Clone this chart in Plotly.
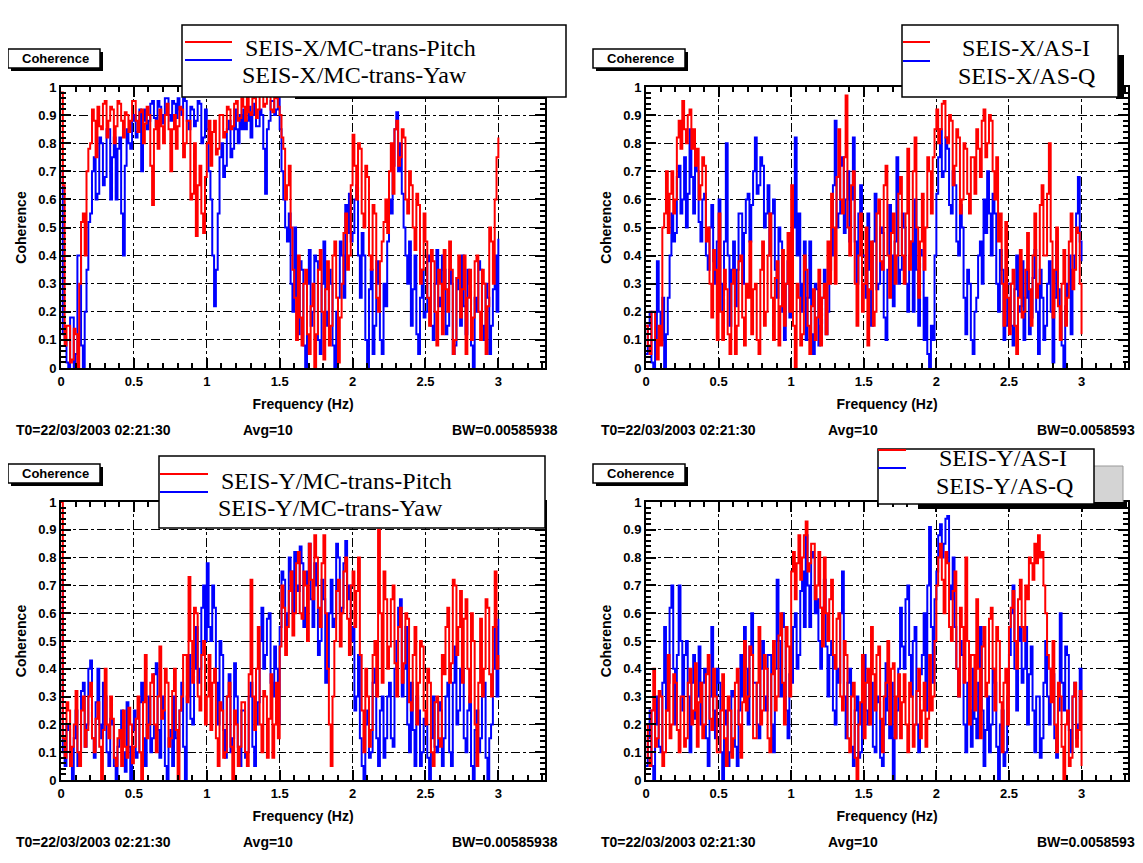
import plotly.graph_objects as go

# page offset of the plot inside the browser window (default body margin)
OFF = 8
W, H = 1143 - OFF, 863 - OFF

# frequency bins (Hz), 0 .. 3 Hz
freq = [round(i * 0.0125, 4) for i in range(241)]

# coherence values, in hundredths
x_pitch = [98, 65, 8, 15, 15, 2, 3, 14, 12, 0, 30, 52, 55, 40, 70, 78, 80, 92, 88, 75,
           93, 86, 85, 94, 95, 82, 88, 93, 92, 80, 86, 95, 94, 88, 82, 91, 90, 84, 88, 95,
           95, 88, 84, 91, 92, 80, 87, 93, 90, 72, 58, 85, 88, 78, 92, 86, 80, 90, 94, 85,
           70, 85, 90, 78, 86, 93, 92, 75, 80, 88, 88, 60, 62, 80, 47, 65, 72, 55, 48, 68,
           80, 88, 72, 84, 88, 76, 78, 90, 90, 82, 84, 93, 92, 85, 86, 94, 95, 88, 89, 96,
           93, 88, 97, 91, 90, 96, 96, 89, 92, 97, 98, 93, 94, 98, 97, 92, 91, 97, 96, 93,
           90, 82, 78, 60, 65, 72, 50, 35, 25, 10, 40, 18, 8, 30, 35, 12, 5, 22, 30, 0,
           12, 35, 42, 20, 3, 28, 38, 8, 15, 40, 45, 25, 2, 18, 30, 48, 55, 35, 40, 65,
           83, 72, 60, 80, 78, 55, 50, 72, 68, 40, 35, 58, 55, 25, 20, 38, 45, 52, 60, 48,
           70, 80, 62, 85, 88, 72, 75, 85, 82, 60, 55, 70, 65, 50, 42, 62, 58, 30, 35, 55,
           45, 25, 15, 42, 38, 20, 8, 35, 30, 12, 42, 28, 20, 45, 35, 5, 10, 32, 40, 18,
           28, 40, 5, 25, 35, 10, 18, 38, 40, 20, 10, 35, 30, 5, 22, 50, 45, 30, 60, 75,
           82]
x_yaw = [70, 12, 10, 2, 0, 18, 18, 0, 5, 40, 40, 8, 0, 20, 35, 52, 55, 70, 75, 60,
         62, 82, 80, 65, 68, 85, 85, 60, 75, 82, 60, 78, 82, 55, 40, 72, 85, 80, 78, 88,
         90, 82, 84, 92, 70, 88, 92, 85, 88, 94, 95, 89, 86, 95, 93, 87, 90, 96, 96, 90,
         88, 95, 94, 89, 96, 92, 90, 96, 95, 88, 85, 93, 92, 86, 88, 95, 94, 80, 82, 92,
         85, 70, 60, 40, 22, 35, 55, 75, 80, 68, 72, 85, 88, 75, 78, 92, 85, 80, 90, 85,
         92, 85, 88, 93, 82, 90, 94, 86, 86, 92, 90, 78, 62, 85, 88, 95, 95, 90, 92, 96,
         85, 70, 60, 50, 45, 55, 30, 20, 50, 25, 12, 38, 35, 8, 0, 30, 42, 15, 20, 40,
         38, 10, 5, 30, 45, 20, 15, 35, 30, 8, 0, 20, 25, 45, 40, 25, 58, 48, 62, 45,
         48, 60, 65, 40, 25, 48, 40, 10, 0, 28, 35, 5, 15, 38, 30, 10, 5, 30, 22, 45,
         60, 55, 72, 85, 91, 70, 80, 62, 50, 40, 30, 45, 15, 28, 40, 12, 5, 25, 35, 18,
         20, 40, 38, 15, 10, 30, 42, 22, 25, 40, 35, 12, 15, 35, 30, 5, 8, 32, 28, 15,
         40, 22, 12, 35, 30, 8, 0, 25, 20, 38, 35, 15, 10, 30, 25, 5, 15, 28, 40, 20,
         46]
x_asi = [15, 8, 5, 20, 20, 10, 3, 15, 8, 50, 55, 70, 48, 62, 70, 55, 60, 82, 88, 78,
         95, 85, 80, 90, 92, 78, 85, 72, 78, 60, 65, 75, 72, 45, 50, 30, 18, 42, 35, 10,
         55, 20, 10, 35, 28, 12, 5, 30, 35, 5, 15, 38, 40, 18, 8, 30, 25, 45, 12, 28,
         30, 10, 5, 35, 45, 15, 20, 40, 55, 25, 10, 32, 38, 8, 22, 42, 15, 30, 48, 20,
         65, 15, 0, 30, 25, 8, 12, 40, 35, 15, 5, 22, 28, 10, 18, 35, 8, 25, 30, 12,
         45, 30, 62, 50, 30, 68, 85, 60, 55, 75, 97, 50, 40, 65, 70, 30, 15, 40, 55, 20,
         30, 50, 8, 28, 45, 15, 20, 55, 60, 38, 35, 65, 72, 40, 25, 48, 55, 30, 40, 62,
         68, 40, 30, 55, 78, 35, 45, 70, 82, 50, 25, 45, 62, 35, 50, 75, 70, 55, 75, 85,
         92, 80, 85, 94, 95, 82, 80, 90, 88, 65, 72, 85, 82, 55, 60, 80, 78, 62, 55, 75,
         75, 62, 85, 78, 68, 88, 92, 75, 80, 90, 88, 70, 60, 75, 45, 55, 30, 15, 52, 25,
         12, 30, 35, 15, 5, 25, 42, 18, 20, 35, 48, 28, 15, 40, 55, 25, 30, 58, 65, 40,
         40, 62, 80, 45, 18, 35, 50, 22, 10, 30, 42, 15, 25, 45, 55, 28, 35, 50, 48, 30,
         12]
x_asq = [5, 15, 20, 2, 0, 10, 38, 20, 10, 25, 0, 12, 25, 40, 55, 45, 48, 68, 72, 55,
         60, 75, 50, 62, 85, 68, 55, 72, 70, 52, 45, 60, 62, 40, 35, 50, 58, 38, 30, 45,
         60, 30, 20, 45, 80, 40, 15, 35, 45, 22, 35, 55, 55, 30, 48, 60, 62, 45, 58, 70,
         82, 62, 65, 75, 72, 50, 55, 65, 40, 55, 60, 35, 25, 50, 45, 20, 10, 30, 38, 18,
         25, 50, 82, 40, 55, 20, 30, 45, 10, 25, 45, 12, 5, 30, 28, 8, 15, 25, 35, 12,
         20, 35, 40, 65, 88, 50, 55, 72, 75, 48, 60, 70, 45, 60, 82, 45, 30, 55, 65, 40,
         40, 25, 55, 35, 15, 45, 62, 28, 30, 50, 48, 18, 10, 35, 58, 40, 22, 45, 75, 30,
         35, 55, 50, 30, 20, 40, 45, 20, 60, 35, 15, 42, 40, 10, 25, 5, 0, 15, 10, 40,
         62, 75, 85, 68, 70, 82, 78, 58, 55, 70, 65, 45, 40, 58, 50, 25, 12, 35, 30, 10,
         5, 20, 25, 40, 45, 30, 60, 48, 70, 55, 40, 62, 55, 30, 20, 42, 35, 10, 15, 30,
         30, 15, 8, 28, 40, 20, 22, 38, 10, 25, 35, 12, 18, 32, 42, 20, 5, 35, 25, 10,
         15, 30, 38, 20, 2, 25, 45, 28, 20, 8, 0, 22, 30, 40, 12, 35, 40, 55, 68, 45,
         38]
y_pitch = [100, 15, 8, 28, 25, 5, 12, 20, 32, 10, 5, 25, 30, 12, 18, 30, 35, 15, 10, 22,
           28, 12, 0, 18, 40, 20, 15, 30, 22, 8, 5, 15, 18, 5, 25, 12, 8, 26, 20, 6,
           12, 22, 30, 10, 0, 28, 45, 15, 20, 35, 38, 20, 10, 30, 48, 22, 25, 40, 35, 12,
           15, 32, 40, 18, 0, 25, 30, 45, 45, 28, 73, 50, 35, 62, 60, 30, 25, 45, 50, 20,
           30, 45, 18, 35, 40, 15, 5, 28, 25, 8, 10, 30, 35, 12, 0, 25, 20, 5, 12, 28,
           28, 10, 5, 38, 72, 30, 18, 40, 55, 20, 10, 32, 30, 8, 22, 38, 8, 20, 35, 15,
           48, 70, 62, 45, 55, 68, 75, 52, 60, 78, 82, 60, 58, 75, 70, 50, 85, 72, 65, 88,
           80, 62, 55, 78, 88, 60, 40, 20, 5, 30, 50, 68, 72, 48, 60, 75, 80, 58, 45, 70,
           75, 55, 68, 80, 45, 25, 10, 40, 30, 12, 18, 45, 50, 30, 90, 60, 35, 75, 65, 40,
           48, 65, 70, 42, 30, 55, 62, 35, 42, 60, 58, 28, 25, 45, 55, 20, 35, 50, 48, 25,
           20, 40, 35, 10, 5, 28, 30, 15, 12, 45, 38, 55, 62, 35, 42, 72, 70, 45, 55, 68,
           35, 58, 65, 40, 28, 60, 50, 20, 5, 35, 58, 30, 40, 65, 62, 38, 30, 55, 75, 40,
           45]
y_yaw = [72, 10, 5, 20, 18, 5, 0, 15, 25, 5, 10, 32, 35, 12, 20, 40, 43, 15, 8, 28,
         40, 20, 15, 35, 30, 10, 5, 22, 20, 5, 0, 12, 15, 25, 10, 3, 28, 12, 0, 18,
         25, 8, 10, 28, 35, 15, 5, 20, 30, 10, 15, 38, 42, 18, 8, 30, 25, 5, 0, 15,
         18, 5, 30, 15, 10, 25, 35, 12, 0, 30, 45, 22, 20, 40, 55, 35, 40, 62, 70, 50,
         78, 55, 50, 70, 62, 35, 20, 50, 45, 18, 8, 30, 38, 10, 15, 42, 30, 12, 5, 25,
         25, 8, 10, 30, 35, 12, 5, 20, 28, 50, 62, 40, 45, 58, 60, 35, 30, 48, 40, 20,
         55, 75, 72, 50, 60, 80, 75, 60, 82, 70, 68, 84, 78, 55, 62, 75, 85, 65, 55, 78,
         70, 45, 50, 72, 65, 35, 40, 60, 72, 55, 58, 85, 80, 60, 62, 78, 86, 65, 70, 50,
         55, 25, 30, 45, 15, 5, 0, 20, 25, 8, 10, 35, 40, 15, 5, 25, 30, 8, 15, 30,
         35, 15, 12, 40, 50, 62, 65, 30, 40, 55, 20, 10, 35, 18, 5, 30, 25, 5, 10, 22,
         20, 8, 0, 15, 30, 12, 10, 28, 25, 5, 15, 30, 35, 10, 5, 35, 48, 20, 25, 40,
         40, 15, 10, 25, 30, 5, 0, 18, 25, 10, 15, 30, 35, 8, 0, 15, 20, 40, 55, 30,
         58]
y_asi = [20, 8, 5, 25, 40, 12, 15, 32, 30, 5, 10, 25, 45, 15, 20, 38, 35, 18, 10, 30,
         30, 12, 15, 35, 40, 20, 25, 42, 12, 28, 35, 15, 20, 38, 45, 22, 18, 40, 30, 10,
         10, 25, 38, 15, 5, 30, 25, 8, 15, 35, 40, 20, 8, 28, 50, 25, 30, 48, 45, 15,
         15, 35, 55, 20, 25, 45, 40, 15, 10, 38, 50, 25, 30, 52, 60, 35, 20, 55, 48, 30,
         75, 82, 65, 78, 88, 72, 80, 88, 93, 75, 78, 85, 85, 65, 70, 82, 62, 48, 80, 60,
         50, 65, 72, 45, 40, 58, 60, 30, 25, 50, 45, 15, 10, 30, 35, 8, 0, 20, 28, 45,
         15, 35, 40, 20, 55, 38, 25, 45, 48, 22, 10, 30, 35, 50, 20, 40, 42, 15, 30, 38,
         15, 28, 38, 20, 10, 35, 30, 12, 20, 32, 40, 15, 25, 35, 12, 22, 45, 25, 30, 50,
         70, 80, 85, 72, 60, 82, 78, 55, 50, 68, 75, 40, 30, 62, 55, 35, 80, 50, 20, 45,
         45, 25, 65, 40, 15, 48, 55, 30, 35, 58, 62, 40, 25, 55, 50, 28, 10, 35, 40, 20,
         55, 62, 68, 50, 40, 65, 72, 55, 50, 70, 65, 80, 78, 72, 85, 78, 88, 80, 82, 70,
         60, 45, 40, 28, 50, 20, 10, 35, 30, 12, 0, 20, 25, 5, 8, 30, 35, 12, 18, 32,
         5]
y_asq = [5, 15, 25, 5, 0, 20, 30, 12, 10, 35, 55, 25, 35, 62, 70, 40, 20, 45, 70, 50,
         25, 45, 50, 30, 10, 35, 45, 22, 30, 48, 20, 35, 40, 15, 5, 30, 55, 25, 15, 40,
         35, 10, 0, 20, 25, 5, 10, 32, 30, 12, 5, 25, 45, 30, 55, 40, 20, 48, 60, 35,
         35, 20, 15, 40, 50, 30, 25, 45, 45, 20, 10, 40, 72, 50, 30, 60, 55, 25, 15, 38,
         35, 55, 60, 40, 45, 68, 75, 55, 88, 70, 55, 82, 80, 60, 65, 50, 40, 62, 72, 48,
         30, 45, 50, 25, 20, 40, 35, 60, 75, 30, 15, 35, 40, 12, 5, 25, 30, 8, 10, 28,
         45, 25, 20, 38, 35, 12, 10, 30, 28, 8, 5, 20, 42, 25, 15, 35, 0, 15, 25, 40,
         62, 48, 40, 65, 70, 45, 30, 50, 55, 20, 10, 38, 45, 60, 25, 70, 91, 55, 35, 65,
         75, 88, 92, 80, 85, 94, 95, 70, 65, 80, 55, 40, 30, 50, 45, 20, 10, 35, 25, 12,
         40, 22, 15, 35, 55, 25, 5, 18, 30, 10, 20, 40, 35, 12, 0, 20, 25, 5, 10, 30,
         45, 60, 70, 40, 25, 50, 55, 35, 40, 55, 20, 38, 48, 25, 10, 30, 30, 8, 15, 35,
         50, 30, 20, 40, 38, 15, 8, 25, 60, 35, 25, 48, 45, 18, 10, 30, 35, 15, 20, 40,
         30]

y_ticks = [0, 0.1, 0.2, 0.3, 0.4, 0.5, 0.6, 0.7, 0.8, 0.9, 1]
x_ticks = [0, 0.5, 1, 1.5, 2, 2.5, 3]

panels = [
    dict(ax="", red=x_pitch, blue=x_yaw, rn="SEIS-X/MC-trans-Pitch", bn="SEIS-X/MC-trans-Yaw",
         px0=61, px1=545, py0=87, py1=368),
    dict(ax="2", red=x_asi, blue=x_asq, rn="SEIS-X/AS-I", bn="SEIS-X/AS-Q",
         px0=646, px1=1128, py0=87, py1=368),
    dict(ax="3", red=y_pitch, blue=y_yaw, rn="SEIS-Y/MC-trans-Pitch", bn="SEIS-Y/MC-trans-Yaw",
         px0=61, px1=545, py0=502, py1=780),
    dict(ax="4", red=y_asi, blue=y_asq, rn="SEIS-Y/AS-I", bn="SEIS-Y/AS-Q",
         px0=646, px1=1128, py0=502, py1=780),
]


def fx(x):
    return (x - OFF) / W


def fy(y):
    return 1 - (y - OFF) / H


def note(text, x, y, font, xanchor="center"):
    return dict(text=text, xref="paper", yref="paper", x=fx(x), y=fy(y), showarrow=False,
                xanchor=xanchor, yanchor="middle", font=font)


fig = go.Figure()
layout = dict(width=W, height=H, margin=dict(l=0, r=0, t=0, b=0, pad=0, autoexpand=False),
              paper_bgcolor="white", plot_bgcolor="white", showlegend=False)
font_ax = dict(family="Liberation Sans, Arial", size=14, color="black", weight="bold")
font_tick = dict(family="Liberation Sans, Arial", size=13, color="black", weight="bold")
shapes, annotations = [], []

for p in panels:
    a = p["ax"]
    fig.add_trace(go.Scatter(x=freq, y=[v / 100 for v in p["blue"]], mode="lines",
                             line=dict(color="#0000ff", width=2, shape="hv"),
                             name=p["bn"], xaxis="x" + a, yaxis="y" + a))
    fig.add_trace(go.Scatter(x=freq, y=[v / 100 for v in p["red"]], mode="lines",
                             line=dict(color="#ff0000", width=2, shape="hv"),
                             name=p["rn"], xaxis="x" + a, yaxis="y" + a))
    layout["xaxis" + a] = dict(
        domain=[fx(p["px0"]), fx(p["px1"])], anchor="y" + a, range=[0, 3.32], automargin=False,
        tickvals=x_ticks, ticktext=[str(t) for t in x_ticks], tickfont=font_tick,
        showline=True, linecolor="black", linewidth=2, mirror="ticks",
        ticks="inside", ticklen=10, tickcolor="black", tickwidth=1.5,
        minor=dict(dtick=0.1, tick0=0, ticks="inside", ticklen=5, tickcolor="black", showgrid=False),
        showgrid=True, gridcolor="black", gridwidth=1.3, griddash="dashdot",
        zeroline=False, title=dict(text="Frequency (Hz)", font=font_ax, standoff=12))
    layout["yaxis" + a] = dict(
        domain=[fy(p["py1"]), fy(p["py0"])], anchor="x" + a, range=[0, 1], automargin=False,
        tickvals=y_ticks, ticktext=[("%g" % t) for t in y_ticks], tickfont=font_tick,
        showline=True, linecolor="black", linewidth=2, mirror="ticks",
        ticks="inside", ticklen=10, tickcolor="black", tickwidth=1.5,
        minor=dict(dtick=0.02, tick0=0, ticks="inside", ticklen=5, tickcolor="black", showgrid=False),
        showgrid=True, gridcolor="black", gridwidth=1.3, griddash="dashdot",
        zeroline=False, title=dict(text="Coherence", font=font_ax, standoff=8))

    # "Coherence" title box with shadow
    bx0 = p["px0"] - 53
    by0 = p["py0"] - 38
    shapes.append(dict(type="rect", xref="paper", yref="paper",
                       x0=fx(bx0 + 3), x1=fx(bx0 + 95), y0=fy(by0 + 22), y1=fy(by0 + 3),
                       fillcolor="black", line=dict(width=0), layer="above"))
    shapes.append(dict(type="rect", xref="paper", yref="paper",
                       x0=fx(bx0), x1=fx(bx0 + 92), y0=fy(by0 + 19), y1=fy(by0),
                       fillcolor="white", line=dict(color="black", width=1.5), layer="above"))
    annotations.append(note("Coherence", bx0 + 47, by0 + 9.5,
                            dict(family="Liberation Sans, Arial", size=13, color="black",
                                 weight="bold")))

    # footer
    fyv = p["py1"] + 62
    annotations.append(note("T0=22/03/2003 02:21:30", p["px0"] - 47, fyv, font_ax, "left"))
    annotations.append(note("Avg=10", p["px0"] + 207, fyv, font_ax))
    annotations.append(note("BW=0.00585938", p["px0"] + 389, fyv, font_ax, "left"))

# legend boxes (drawn as shapes + text)
legend_font = dict(family="Liberation Serif, Times New Roman", size=24, color="black")
legends = [
    dict(box=(182, 566, 25, 97), sx=(185, 232), ry=42, by=60, tx=(360, 354), rty=48, bty=75,
         shadow=(295, 547, 94, 99), rn=0),
    dict(box=(902, 1118, 25, 97), sx=(903, 930), ry=42, by=61, tx=(1026, 1026), rty=48, bty=76,
         shadow=(1116, 1124, 55, 99), rn=1),
    dict(box=(159, 545, 456, 528), sx=(160, 208), ry=474, by=492, tx=(336, 330), rty=481, bty=508,
         shadow=None, rn=2),
    dict(box=(878, 1094, 449, 504), sx=(878, 906), ry=450, by=468, tx=(1003, 1004), rty=458, bty=486,
         shadow=(918, 1127, 502, 509), rn=3),
]
# grey box behind bottom-right legend
shapes.append(dict(type="rect", xref="paper", yref="paper",
                   x0=fx(1085), x1=fx(1123), y0=fy(506), y1=fy(466),
                   fillcolor="#d4d4d4", line=dict(color="#999999", width=1), layer="above"))
for lg in legends:
    x0, x1, y0, y1 = lg["box"]
    if lg["shadow"]:
        s0, s1, t0, t1 = lg["shadow"]
        shapes.append(dict(type="rect", xref="paper", yref="paper",
                           x0=fx(s0), x1=fx(s1), y0=fy(t1), y1=fy(t0),
                           fillcolor="black", line=dict(width=0), layer="above"))
    shapes.append(dict(type="rect", xref="paper", yref="paper",
                       x0=fx(x0), x1=fx(x1), y0=fy(y1), y1=fy(y0),
                       fillcolor="white", line=dict(color="black", width=1.5), layer="above"))
    shapes.append(dict(type="line", xref="paper", yref="paper",
                       x0=fx(lg["sx"][0]), x1=fx(lg["sx"][1]), y0=fy(lg["ry"]), y1=fy(lg["ry"]),
                       line=dict(color="#ff0000", width=2), layer="above"))
    shapes.append(dict(type="line", xref="paper", yref="paper",
                       x0=fx(lg["sx"][0]), x1=fx(lg["sx"][1]), y0=fy(lg["by"]), y1=fy(lg["by"]),
                       line=dict(color="#0000ff", width=2), layer="above"))
    pn = panels[lg["rn"]]
    annotations.append(note(pn["rn"], lg["tx"][0], lg["rty"], legend_font))
    annotations.append(note(pn["bn"], lg["tx"][1], lg["bty"], legend_font))

# page edge line on the right
shapes.append(dict(type="line", xref="paper", yref="paper", x0=fx(1141), x1=fx(1141), y0=0, y1=1,
                   line=dict(color="black", width=2), layer="above"))

layout["shapes"] = shapes
layout["annotations"] = annotations
fig.update_layout(**layout)
fig.write_html("out.html")
